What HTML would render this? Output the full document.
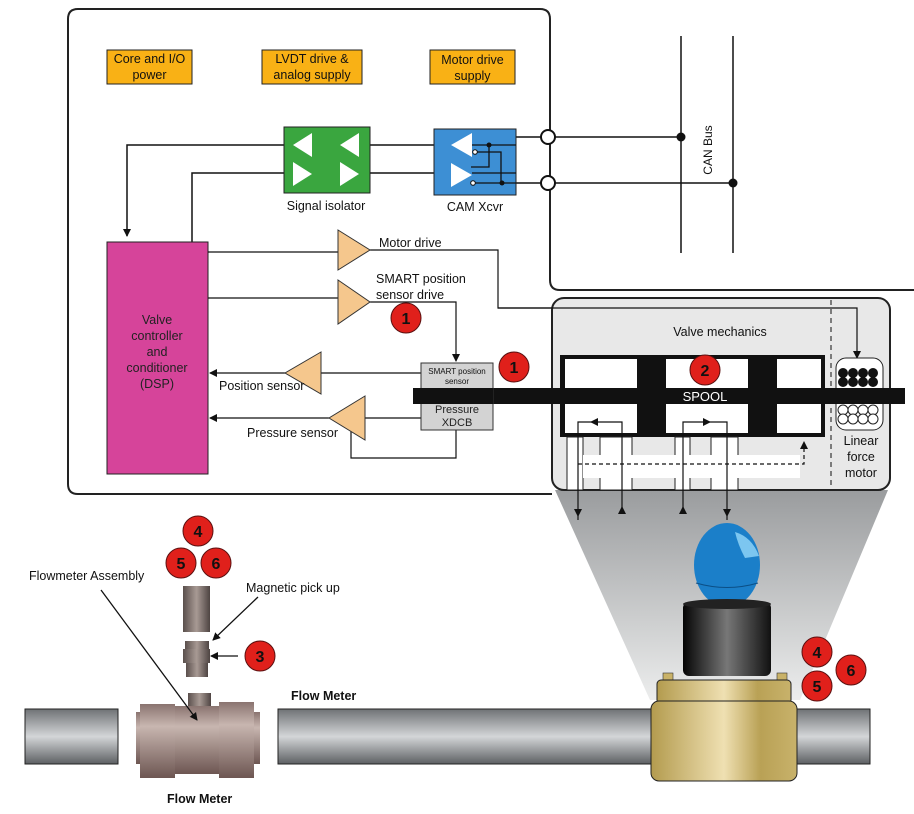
<!DOCTYPE html>
<html><head><meta charset="utf-8"><style>
html,body{margin:0;padding:0;background:#fff;}
svg{display:block;font-family:"Liberation Sans",sans-serif;}
</style></head><body>
<svg width="914" height="814" viewBox="0 0 914 814" xmlns="http://www.w3.org/2000/svg">
<defs>
<linearGradient id="pipe" x1="0" y1="0" x2="0" y2="1">
<stop offset="0" stop-color="#6f7275"/><stop offset="0.5" stop-color="#d4d6d8"/><stop offset="1" stop-color="#5d6063"/></linearGradient>
<linearGradient id="fm" x1="0" y1="0" x2="0" y2="1">
<stop offset="0" stop-color="#8a7470"/><stop offset="0.3" stop-color="#c8b6b0"/><stop offset="1" stop-color="#6d5652"/></linearGradient>
<linearGradient id="brass" x1="0" y1="0" x2="1" y2="0">
<stop offset="0" stop-color="#b39b4e"/><stop offset="0.5" stop-color="#efe0b2"/><stop offset="0.75" stop-color="#b9a155"/><stop offset="1" stop-color="#c8b26b"/></linearGradient>
<linearGradient id="blk" x1="0" y1="0" x2="1" y2="0">
<stop offset="0" stop-color="#050505"/><stop offset="0.5" stop-color="#777"/><stop offset="1" stop-color="#111"/></linearGradient>
<linearGradient id="fun" x1="0" y1="0" x2="0" y2="1">
<stop offset="0" stop-color="#9a9c9e"/><stop offset="1" stop-color="#eceded"/></linearGradient>
<linearGradient id="nip" x1="0" y1="0" x2="1" y2="0">
<stop offset="0" stop-color="#5a4f4c"/><stop offset="0.5" stop-color="#a89a94"/><stop offset="1" stop-color="#4e4442"/></linearGradient>
<marker id="ar" markerWidth="8" markerHeight="8" refX="7" refY="4" orient="auto" markerUnits="userSpaceOnUse"><path d="M0,0L8,4L0,8z" fill="#111"/></marker>
</defs>

<!-- funnel -->
<polygon points="555,490 888,490 800,700 650,700" fill="url(#fun)"/>

<!-- main box -->
<path d="M552,494 L78,494 Q68,494 68,484 L68,19 Q68,9 78,9 L540,9 Q550,9 550,19 L550,280 Q550,290 560,290 L914,290" fill="none" stroke="#222" stroke-width="2"/>

<!-- power boxes -->
<g font-size="12.5" text-anchor="middle" fill="#111">
<rect x="107" y="50" width="85" height="34" fill="#f9b115" stroke="#222"/>
<text x="149.5" y="63">Core and I/O</text><text x="149.5" y="79">power</text>
<rect x="262" y="50" width="100" height="34" fill="#f9b115" stroke="#222"/>
<text x="312" y="63">LVDT drive &amp;</text><text x="312" y="79">analog supply</text>
<rect x="430" y="50" width="85" height="34" fill="#f9b115" stroke="#222"/>
<text x="472.5" y="64">Motor drive</text><text x="472.5" y="80">supply</text>
</g>

<!-- CAN bus -->
<g stroke="#111" stroke-width="1.5" fill="none">
<line x1="681" y1="36" x2="681" y2="253"/><line x1="733" y1="36" x2="733" y2="253"/>
<line x1="555" y1="137" x2="681" y2="137"/><line x1="555" y1="183" x2="733" y2="183"/>
<line x1="516" y1="137" x2="541" y2="137"/><line x1="516" y1="183" x2="541" y2="183"/>
<line x1="370" y1="145" x2="450" y2="145"/><line x1="370" y1="173" x2="450" y2="173"/>
<path d="M284,145 L127,145 L127,236" marker-end="url(#ar)"/>
<path d="M284,173 L192,173 L192,242"/>
</g>
<circle cx="681" cy="137" r="4.5" fill="#111"/><circle cx="733" cy="183" r="4.5" fill="#111"/>
<circle cx="548" cy="137" r="7" fill="#fff" stroke="#111" stroke-width="2"/>
<circle cx="548" cy="183" r="7" fill="#fff" stroke="#111" stroke-width="2"/>
<text x="712" y="150" font-size="12" fill="#111" transform="rotate(-90 712 150)" text-anchor="middle">CAN Bus</text>

<!-- signal isolator -->
<rect x="284" y="127" width="86" height="66" fill="#3aa63f" stroke="#222"/>
<g fill="#fff">
<polygon points="293,145 312,133 312,157"/><polygon points="340,145 359,133 359,157"/>
<polygon points="293,162 312,174 293,186"/><polygon points="340,162 359,174 340,186"/>
</g>
<text x="326" y="210" font-size="12.5" text-anchor="middle" fill="#111">Signal isolator</text>

<!-- CAN xcvr -->
<rect x="434" y="129" width="82" height="66" fill="#3d8fd4" stroke="#222"/>
<g fill="#fff"><polygon points="451,145 472,133 472,157"/><polygon points="451,163 472,175 451,187"/></g>
<g stroke="#111" stroke-width="1.3" fill="none">
<path d="M472,145 L516,145"/><path d="M472,173 L516,173"/>
<path d="M475,152 L501,152 L501,183"/><path d="M489,145 L489,167 L471,167"/><path d="M473,183 L516,183"/>
</g>
<circle cx="489" cy="145" r="2.5" fill="#111"/><circle cx="502" cy="183" r="2.5" fill="#111"/>
<circle cx="475" cy="152" r="2.3" fill="#fff" stroke="#111"/><circle cx="473" cy="183" r="2.3" fill="#fff" stroke="#111"/>
<text x="475" y="211" font-size="12.5" text-anchor="middle" fill="#111">CAM Xcvr</text>

<!-- DSP -->
<rect x="107" y="242" width="101" height="232" fill="#d6449a" stroke="#222"/>
<g font-size="12.5" text-anchor="middle" fill="#222">
<text x="157" y="324">Valve</text><text x="157" y="340">controller</text><text x="157" y="356">and</text><text x="157" y="372">conditioner</text><text x="157" y="388">(DSP)</text>
</g>

<!-- amps & lines -->
<g stroke="#111" stroke-width="1.2" fill="none">
<line x1="208" y1="252" x2="338" y2="252"/>
<line x1="208" y1="298" x2="338" y2="298"/>
<path d="M370,250 L498,250 L498,308 L857,308 L857,358" marker-end="url(#ar)"/>
<path d="M370,302 L456,302 L456,361" marker-end="url(#ar)"/>
<line x1="421" y1="373" x2="321" y2="373"/>
<path d="M285,373 L210,373" marker-end="url(#ar)"/>
<line x1="421" y1="418" x2="365" y2="418"/>
<path d="M329,418 L210,418" marker-end="url(#ar)"/>
<path d="M456,430 L456,458 L351,458 L351,430"/>
</g>
<g fill="#f5c78d" stroke="#333">
<polygon points="338,230 370,250 338,270"/>
<polygon points="338,280 370,302 338,324"/>
<polygon points="321,352 285,373 321,394"/>
<polygon points="365,396 329,418 365,440"/>
</g>
<g font-size="12.5" fill="#111">
<text x="379" y="247">Motor drive</text>
<text x="376" y="283">SMART position</text><text x="376" y="299">sensor drive</text>
<text x="219" y="390">Position sensor</text>
<text x="247" y="437">Pressure sensor</text>
</g>

<!-- valve mechanics box -->
<rect x="552" y="298" width="338" height="192" rx="12" fill="#e8e8e8" stroke="#222" stroke-width="2"/>
<line x1="831" y1="300" x2="831" y2="488" stroke="#111" stroke-dasharray="5,4"/>
<path d="M498,308 L857,308 L857,358" stroke="#111" stroke-width="1.2" fill="none" marker-end="url(#ar)"/>
<text x="720" y="336" font-size="12.5" text-anchor="middle" fill="#111">Valve mechanics</text>
<rect x="560" y="355" width="265" height="82" fill="#111"/>
<g fill="#fff">
<rect x="565" y="359" width="72" height="29"/><rect x="666" y="359" width="82" height="29"/><rect x="777" y="359" width="44" height="29"/>
<rect x="565" y="404" width="72" height="29"/><rect x="666" y="404" width="82" height="29"/><rect x="777" y="404" width="44" height="29"/>
</g>
<!-- ports -->
<g fill="#fff" stroke="#222">
<path d="M567,437 L567,490 L583,490 L583,437 Z"/>
<path d="M600,437 L600,490 L632,490 L632,437 Z"/>
<path d="M675,437 L675,490 L690,490 L690,437 Z"/>
<path d="M711,437 L711,490 L738,490 L738,437 Z"/>
<path d="M583,455 L800,455 L800,478 L583,478 Z" stroke="none"/>
</g>
<g stroke="#111" stroke-width="1.2" fill="none">
<path d="M578,520 L578,422 L598,422" /><path d="M622,510 L622,422 L598,422"/>
<path d="M683,510 L683,422 L703,422"/><path d="M727,520 L727,422 L703,422"/>
<path d="M578,464 L804,464 L804,447" stroke-dasharray="4,3"/>
</g>
<g fill="#111">
<polygon points="598,418 598,426 590,422"/><polygon points="703,418 703,426 711,422"/>
<polygon points="800,449 808,449 804,441"/>
<polygon points="574,509 582,509 578,517"/><polygon points="618,514 626,514 622,506"/>
<polygon points="679,514 687,514 683,506"/><polygon points="723,509 731,509 727,517"/>
</g>
<!-- spool bar -->
<rect x="413" y="388" width="492" height="16" fill="#111"/>
<text x="705" y="401" font-size="13" fill="#fff" text-anchor="middle">SPOOL</text>
<!-- linear force motor -->
<rect x="836" y="358" width="47" height="72" rx="10" fill="#fff" stroke="#222"/>
<rect x="413" y="388" width="0" height="0"/>
<g fill="#111"><circle cx="843" cy="373" r="5"/><circle cx="853" cy="373" r="5"/><circle cx="863" cy="373" r="5"/><circle cx="873" cy="373" r="5"/>
<circle cx="843" cy="382" r="5"/><circle cx="853" cy="382" r="5"/><circle cx="863" cy="382" r="5"/><circle cx="873" cy="382" r="5"/></g>
<rect x="831" y="388" width="74" height="16" fill="#111"/>
<g fill="#fff" stroke="#222"><circle cx="843" cy="410" r="5"/><circle cx="853" cy="410" r="5"/><circle cx="863" cy="410" r="5"/><circle cx="873" cy="410" r="5"/>
<circle cx="843" cy="419" r="5"/><circle cx="853" cy="419" r="5"/><circle cx="863" cy="419" r="5"/><circle cx="873" cy="419" r="5"/></g>
<g font-size="12.5" text-anchor="middle" fill="#111"><text x="861" y="445">Linear</text><text x="861" y="461">force</text><text x="861" y="477">motor</text></g>

<!-- sensor box -->
<rect x="421" y="363" width="72" height="67" fill="#d3d3d3" stroke="#333"/>
<rect x="413" y="388" width="80" height="16" fill="#111"/>
<text x="457" y="374" font-size="8" text-anchor="middle" fill="#111">SMART position</text>
<text x="457" y="384" font-size="8" text-anchor="middle" fill="#111">sensor</text>
<text x="457" y="413" font-size="11" text-anchor="middle" fill="#222">Pressure</text>
<text x="457" y="426" font-size="11" text-anchor="middle" fill="#222">XDCB</text>

<!-- pipes -->
<rect x="25" y="709" width="93" height="55" fill="url(#pipe)" stroke="#222"/>
<rect x="278" y="709" width="592" height="55" fill="url(#pipe)" stroke="#222"/>
<!-- flowmeter -->
<rect x="136" y="712" width="124" height="52" fill="url(#fm)"/>
<rect x="140" y="704" width="35" height="74" fill="url(#fm)"/>
<rect x="219" y="702" width="35" height="76" fill="url(#fm)"/>
<rect x="175" y="706" width="44" height="68" fill="url(#fm)"/>
<rect x="188" y="693" width="23" height="13" fill="url(#nip)"/>
<rect x="183" y="586" width="27" height="46" fill="url(#nip)"/>
<rect x="185" y="641" width="24" height="8" fill="url(#nip)"/>
<rect x="183" y="649" width="27" height="14" fill="url(#nip)"/>
<rect x="186" y="663" width="22" height="14" fill="url(#nip)"/>

<!-- valve -->
<ellipse cx="727" cy="565" rx="33" ry="42" fill="#1b7fc9"/>
<path d="M735,532 Q752,537 759,556 L745,558 Q738,545 735,532Z" fill="#7cc6f0"/>
<path d="M696,583 Q727,592 758,583" stroke="#0b4f86" fill="none"/>
<rect x="683" y="602" width="88" height="74" rx="6" fill="url(#blk)"/>
<ellipse cx="727" cy="604" rx="44" ry="5" fill="#222"/>
<rect x="663" y="673" width="10" height="8" fill="#c9b268" stroke="#333" stroke-width=".6"/>
<rect x="777" y="673" width="10" height="8" fill="#c9b268" stroke="#333" stroke-width=".6"/>
<rect x="657" y="680" width="134" height="24" rx="4" fill="url(#brass)" stroke="#222"/>
<rect x="651" y="701" width="146" height="80" rx="8" fill="url(#brass)" stroke="#222"/>

<!-- badges -->
<g font-size="16" font-weight="bold" text-anchor="middle" fill="#111">
<g stroke="#5a1010" stroke-width="1" fill="#e0201b">
<circle cx="406" cy="318" r="15"/><circle cx="514" cy="367" r="15"/><circle cx="705" cy="370" r="15"/>
<circle cx="198" cy="531" r="15"/><circle cx="181" cy="563" r="15"/><circle cx="216" cy="563" r="15"/>
<circle cx="260" cy="656" r="15"/>
<circle cx="817" cy="652" r="15"/><circle cx="851" cy="670" r="15"/><circle cx="817" cy="686" r="15"/>
</g>
<text x="406" y="324">1</text><text x="514" y="373">1</text><text x="705" y="376">2</text>
<text x="198" y="537">4</text><text x="181" y="569">5</text><text x="216" y="569">6</text>
<text x="260" y="662">3</text>
<text x="817" y="658">4</text><text x="851" y="676">6</text><text x="817" y="692">5</text>
</g>

<!-- labels/arrows -->
<g stroke="#111" stroke-width="1.3" fill="none">
<path d="M101,590 L197,720" marker-end="url(#ar)"/>
<path d="M258,597 L213,640" marker-end="url(#ar)"/>
<path d="M238,656 L211,656" marker-end="url(#ar)"/>
</g>
<g font-size="12.5" fill="#111">
<text x="29" y="580">Flowmeter Assembly</text>
<text x="246" y="592">Magnetic pick up</text>
<text x="291" y="700" font-weight="bold">Flow Meter</text>
<text x="167" y="803" font-weight="bold">Flow Meter</text>
</g>
</svg>
</body></html>
